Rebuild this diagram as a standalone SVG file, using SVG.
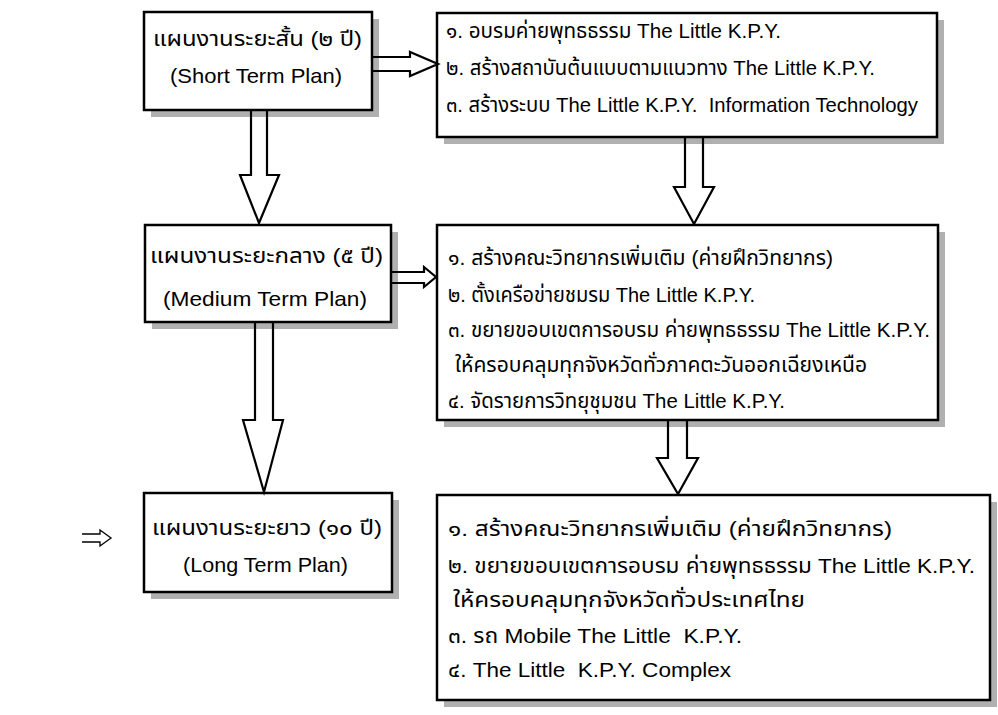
<svg xmlns="http://www.w3.org/2000/svg" width="998" height="715" viewBox="0 0 998 715">
<style>
.bg{fill:#fff}
.sh{fill:#b0b0b0}
.bx{fill:#fff;stroke:#000;stroke-width:2.5}
.ar{fill:none;stroke:#000;stroke-width:2.2;stroke-linejoin:miter}
.t{font-family:"Liberation Sans","Noto Sans Thai","Noto Sans",sans-serif;font-size:21px;fill:#000;white-space:pre}
</style>
<rect class="bg" x="0" y="0" width="998" height="715"/>
<g id="short-term">
<rect class="sh" x="151" y="19" width="228" height="98"/>
<rect class="bx" x="144" y="12" width="228" height="98"/>
<text class="t" x="153" y="46" textLength="209" lengthAdjust="spacingAndGlyphs">แผนงานระยะสั้น (๒ ปี)</text>
<text class="t" x="170" y="83" textLength="172" lengthAdjust="spacingAndGlyphs">(Short Term Plan)</text>
</g>
<g id="short-actions">
<rect class="sh" x="444" y="20" width="500" height="124"/>
<rect class="bx" x="437" y="13" width="500" height="124"/>
<text class="t" x="446" y="38" textLength="335" lengthAdjust="spacingAndGlyphs">๑. อบรมค่ายพุทธธรรม The Little K.P.Y.</text>
<text class="t" x="446" y="75" textLength="429" lengthAdjust="spacingAndGlyphs">๒. สร้างสถาบันต้นแบบตามแนวทาง The Little K.P.Y.</text>
<text class="t" x="446" y="112" textLength="472" lengthAdjust="spacingAndGlyphs">๓. สร้างระบบ The Little K.P.Y.  Information Technology</text>
</g>
<g id="medium-term">
<rect class="sh" x="152" y="232" width="246" height="97"/>
<rect class="bx" x="145" y="225" width="246" height="97"/>
<text class="t" x="150" y="263" textLength="233" lengthAdjust="spacingAndGlyphs">แผนงานระยะกลาง (๕ ปี)</text>
<text class="t" x="163" y="306" textLength="204" lengthAdjust="spacingAndGlyphs">(Medium Term Plan)</text>
</g>
<g id="medium-actions">
<rect class="sh" x="444" y="232" width="501" height="195"/>
<rect class="bx" x="437" y="225" width="501" height="195"/>
<text class="t" x="448" y="265" textLength="385" lengthAdjust="spacingAndGlyphs">๑. สร้างคณะวิทยากรเพิ่มเติม (ค่ายฝึกวิทยากร)</text>
<text class="t" x="448" y="302" textLength="307" lengthAdjust="spacingAndGlyphs">๒. ตั้งเครือข่ายชมรม The Little K.P.Y.</text>
<text class="t" x="448" y="337" textLength="482" lengthAdjust="spacingAndGlyphs">๓. ขยายขอบเขตการอบรม ค่ายพุทธธรรม The Little K.P.Y.</text>
<text class="t" x="455" y="372" textLength="412" lengthAdjust="spacingAndGlyphs">ให้ครอบคลุมทุกจังหวัดทั่วภาคตะวันออกเฉียงเหนือ</text>
<text class="t" x="448" y="408" textLength="337" lengthAdjust="spacingAndGlyphs">๔. จัดรายการวิทยุชุมชน The Little K.P.Y.</text>
</g>
<g id="long-term">
<rect class="sh" x="151" y="500" width="248" height="99"/>
<rect class="bx" x="144" y="493" width="248" height="99"/>
<text class="t" x="152" y="535" textLength="230" lengthAdjust="spacingAndGlyphs">แผนงานระยะยาว (๑๐ ปี)</text>
<text class="t" x="183" y="572" textLength="165" lengthAdjust="spacingAndGlyphs">(Long Term Plan)</text>
</g>
<g id="long-actions">
<rect class="sh" x="444" y="502" width="553" height="205"/>
<rect class="bx" x="437" y="495" width="553" height="205"/>
<text class="t" x="448" y="536" textLength="444" lengthAdjust="spacingAndGlyphs">๑. สร้างคณะวิทยากรเพิ่มเติม (ค่ายฝึกวิทยากร)</text>
<text class="t" x="448" y="573" textLength="527" lengthAdjust="spacingAndGlyphs">๒. ขยายขอบเขตการอบรม ค่ายพุทธธรรม The Little K.P.Y.</text>
<text class="t" x="453" y="607" textLength="352" lengthAdjust="spacingAndGlyphs">ให้ครอบคลุมทุกจังหวัดทั่วประเทศไทย</text>
<text class="t" x="448" y="643" textLength="294" lengthAdjust="spacingAndGlyphs">๓. รถ Mobile The Little  K.P.Y.</text>
<text class="t" x="448" y="677" textLength="283" lengthAdjust="spacingAndGlyphs">๔. The Little  K.P.Y. Complex</text>
</g>
<g id="connectors">
<path class="ar" d="M372,57 H410 V52 L438,64 L410,76 V71 H372"/>
<path class="ar" d="M251,110 V175 H240 L259,223 L279,175 H267 V110"/>
<path class="ar" d="M685,137 V187 H674 L694,224 L714,187 H703 V137"/>
<path class="ar" d="M391,272 H424 V267 L436,277 L424,287 V283 H391"/>
<path class="ar" d="M255,322 V420 H243 L264,492 L283,420 H273 V322"/>
<path class="ar" d="M668,420 V458 H657 L678,494 L698,458 H687 V420"/>
<path class="ar" style="stroke-width:1.3" d="M82,534 H100 V530 L111,538 L100,546 V542 H82"/>
</g>
</svg>
